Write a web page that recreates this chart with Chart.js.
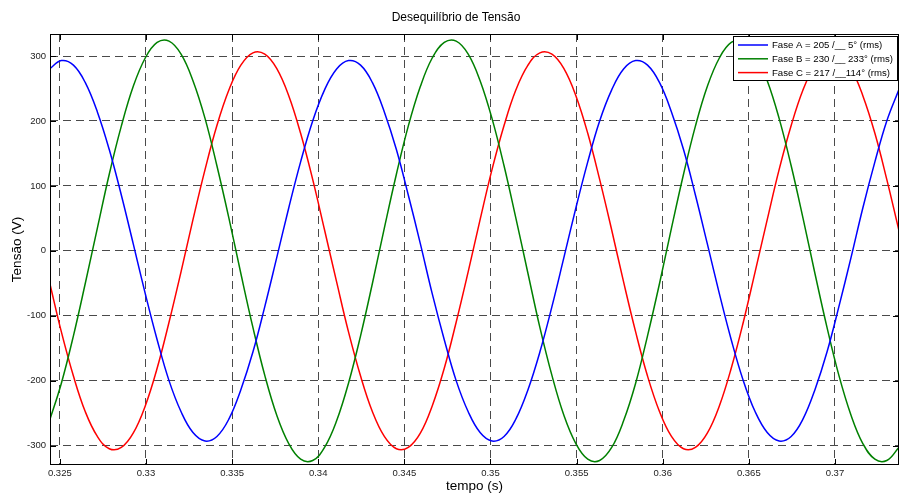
<!DOCTYPE html>
<html><head><meta charset="utf-8">
<script src="https://cdn.jsdelivr.net/npm/chart.js@4.4.0/dist/chart.umd.min.js"></script>
<style>html,body{margin:0;padding:0;background:#fff}canvas{display:block}</style>
</head><body>
<canvas id="c" width="900" height="495"></canvas>
<script>
const times = [0.32440,0.32509,0.32579,0.32648,0.32718,0.32787,0.32857,0.32926,0.32996,0.33065,
0.33134,0.33204,0.33273,0.33343,0.33412,0.33482,0.33551,0.33621,0.33690,0.33759,
0.33829,0.33898,0.33968,0.34037,0.34107,0.34176,0.34246,0.34315,0.34384,0.34454,
0.34523,0.34593,0.34662,0.34732,0.34801,0.34871,0.34940,0.35009,0.35079,0.35148,
0.35218,0.35287,0.35357,0.35426,0.35496,0.35565,0.35634,0.35704,0.35773,0.35843,
0.35912,0.35982,0.36051,0.36121,0.36190,0.36259,0.36329,0.36398,0.36468,0.36537,
0.36607,0.36676,0.36746,0.36815,0.36884,0.36954,0.37023,0.37093,0.37162,0.37232,
0.37301,0.37371];
const faseA = [280,293,286,259,214,156,86,11,-66,-137,-200,-248,-280,-293,-286,-259,-214,-156,-86,-11,66,137,200,248,
280,293,286,259,214,156,86,11,-66,-137,-200,-248,-280,-293,-286,-259,-214,-156,-86,-11,66,137,200,248,
280,293,286,259,214,156,86,11,-66,-137,-200,-248,-280,-293,-286,-259,-214,-156,-86,-11,66,137,200,248];
const faseB = [-262,-204,-131,-50,35,118,192,253,297,321,323,303,262,204,131,50,-35,-118,-192,-253,-297,-321,-323,-303,
-262,-204,-131,-50,35,118,192,253,297,321,323,303,262,204,131,50,-35,-118,-192,-253,-297,-321,-323,-303,
-262,-204,-131,-50,35,118,192,253,297,321,323,303,262,204,131,50,-35,-118,-192,-253,-297,-321,-323,-303];
const faseC = [-48,-125,-193,-248,-286,-305,-303,-281,-239,-181,-110,-32,48,125,193,248,286,305,303,281,239,181,110,32,
-48,-125,-193,-248,-286,-305,-303,-281,-239,-181,-110,-32,48,125,193,248,286,305,303,281,239,181,110,32,
-48,-125,-193,-248,-286,-305,-303,-281,-239,-181,-110,-32,48,125,193,248,286,305,303,281,239,181,110,32];
const xTicks = [0.325,0.33,0.335,0.34,0.345,0.35,0.355,0.36,0.365,0.37];
const yTicks = [-300,-200,-100,0,100,200,300];
const titleText = 'Desequilíbrio de Tensão';
const seriesLabels = ['Fase A = 205 /__ 5° (rms)','Fase B = 230 /__ 233° (rms)','Fase C = 217 /__114° (rms)'];
const seriesColors = ['#0000ff','#008000','#ff0000'];
const seriesValues = [faseA, faseB, faseC];
const FONT = 'Liberation Sans, Arial, sans-serif';

const framePlugin = {
  id: 'frame',
  afterDraw(chart) {
    const {ctx, chartArea: a, scales: {x, y}} = chart;
    ctx.save();
    // title
    ctx.fillStyle = '#000';
    ctx.font = '12px ' + FONT;
    ctx.textAlign = 'center';
    ctx.textBaseline = 'middle';
    ctx.fillText(titleText, chart.width / 2 + 6, 18);
    // frame
    ctx.strokeStyle = '#000';
    ctx.lineWidth = 1;
    ctx.setLineDash([]);
    ctx.strokeRect(a.left + 0.5, a.top + 0.5, a.right - a.left - 1, a.bottom - a.top - 1);
    ctx.beginPath();
    xTicks.forEach(v => {
      const px = Math.round(x.getPixelForValue(v)) + 0.5;
      ctx.moveTo(px, a.bottom); ctx.lineTo(px, a.bottom - 6);
      ctx.moveTo(px, a.top); ctx.lineTo(px, a.top + 6);
    });
    yTicks.forEach(v => {
      const py = Math.round(y.getPixelForValue(v)) + 0.5;
      ctx.moveTo(a.left, py); ctx.lineTo(a.left + 6, py);
      ctx.moveTo(a.right, py); ctx.lineTo(a.right - 6, py);
    });
    ctx.stroke();
    // legend box
    const lw = 164, lh = 44;
    const lx = a.right - 2 - lw, ly = a.top + 2;
    ctx.fillStyle = '#fff';
    ctx.fillRect(lx, ly, lw, lh);
    ctx.strokeRect(lx + 0.5, ly + 0.5, lw, lh);
    ctx.font = '9.6px ' + FONT;
    ctx.textBaseline = 'middle';
    ctx.textAlign = 'left';
    seriesLabels.forEach((t, i) => {
      const yy = ly + 9 + i * 13.8;
      ctx.strokeStyle = seriesColors[i];
      ctx.lineWidth = 1.5;
      ctx.beginPath(); ctx.moveTo(lx + 5, yy); ctx.lineTo(lx + 35, yy); ctx.stroke();
      ctx.fillStyle = '#000';
      ctx.fillText(t, lx + 39, yy + 0.5);
    });
    ctx.restore();
  }
};

const datasets = seriesValues.map((vals, i) => ({
  label: seriesLabels[i],
  data: times.map((t, j) => ({x: t, y: vals[j]})),
  borderColor: seriesColors[i],
  borderWidth: 1.5,
  pointRadius: 0,
  tension: 0.4,
  fill: false
}));

new Chart(document.getElementById('c'), {
  type: 'line',
  data: {datasets},
  options: {
    responsive: false,
    animation: false,
    devicePixelRatio: 1,
    layout: {padding: {left: 0, right: 1, top: 34, bottom: 0}},
    plugins: {
      legend: {display: false},
      tooltip: {enabled: false},
      title: {display: false}
    },
    scales: {
      x: {
        type: 'linear', min: 0.32443, max: 0.37372,
        afterBuildTicks: s => { s.ticks = xTicks.map(v => ({value: v})); },
        afterFit: s => { s.height = 30; },
        ticks: {callback: v => String(+(+v).toFixed(3)), font: {family: FONT, size: 9.5}, color: '#222',
          padding: 3, maxRotation: 0, autoSkip: false},
        grid: {color: '#4a4a4a', lineWidth: 1, drawTicks: false},
        border: {display: false, dash: [8, 5]},
        title: {display: true, text: 'tempo (s)', color: '#000', font: {family: FONT, size: 13.5},
          padding: {top: 0, bottom: 1}}
      },
      y: {
        type: 'linear', min: -330, max: 334,
        afterBuildTicks: s => { s.ticks = yTicks.map(v => ({value: v})); },
        afterFit: s => { s.width = 50; },
        ticks: {font: {family: FONT, size: 9.5}, color: '#222', padding: 4, autoSkip: false},
        grid: {color: '#4a4a4a', lineWidth: 1, drawTicks: false},
        border: {display: false, dash: [8, 5]},
        title: {display: true, text: 'Tensão (V)', color: '#000', font: {family: FONT, size: 13.5},
          padding: {top: 9.5, bottom: 0}}
      }
    }
  },
  plugins: [framePlugin]
});
</script>
</body></html>
